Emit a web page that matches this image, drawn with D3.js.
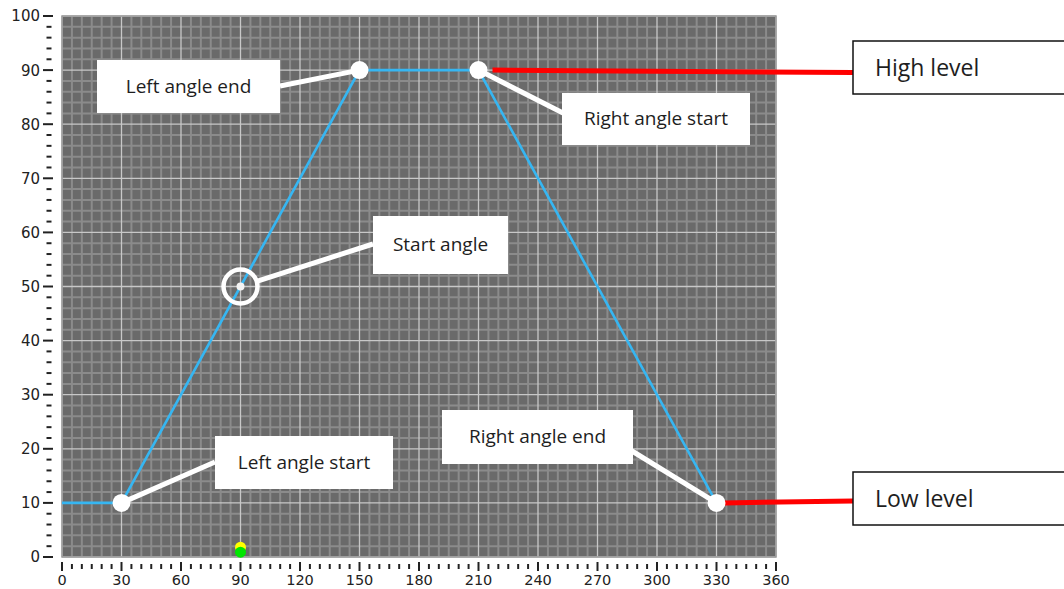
<!DOCTYPE html>
<html><head><meta charset="utf-8">
<script src="https://cdn.jsdelivr.net/npm/d3@7/dist/d3.min.js"></script>
<style>html,body{margin:0;padding:0;background:#fff;}svg{display:block;}</style>
</head><body><svg id="c" width="1064" height="589"></svg>
<script>
// ---- data ----
const angles = [0, 30, 150, 210, 330];
const levels = [10, 10, 90, 90, 10];
const keyAngles = [30, 150, 210, 330];
const keyLevels = [10, 90, 90, 10];
const startAngle = 90, startLevel = 50;
const markerAngle = 90;
const markerLevels = [1.8, 0.9]; // yellow, green
const xTickLabels = [0,30,60,90,120,150,180,210,240,270,300,330,360];
const yTickLabels = [0,10,20,30,40,50,60,70,80,90,100];
const calloutLabels = ["Left angle end","Right angle start","Start angle","Left angle start","Right angle end"];
const calloutAngles = [150, 210, 90, 30, 330];
const calloutLevels = [90, 90, 50, 10, 10];
const levelLabels = ["High level","Low level"];
const levelValues = [90, 10];

// ---- layout ----
const svg = d3.select("#c");
const x = d3.scaleLinear().domain([0,360]).range([62,776]);
const y = d3.scaleLinear().domain([0,100]).range([557,16]);

svg.append("rect").attr("x",x(0)).attr("y",y(100)).attr("width",x(360)-x(0)).attr("height",y(0)-y(100))
  .attr("fill","#6a6a6a");
const g = svg.append("g");
d3.range(0,361,5).forEach(v=>{ if(v%30) g.append("line").attr("x1",x(v)).attr("x2",x(v)).attr("y1",y(100)).attr("y2",y(0)).attr("stroke","#8b8b8b").attr("stroke-width",2);});
d3.range(0,101,2).forEach(v=>{ if(v%10) g.append("line").attr("y1",y(v)).attr("y2",y(v)).attr("x1",x(0)).attr("x2",x(360)).attr("stroke","#8b8b8b").attr("stroke-width",2);});
xTickLabels.forEach(v=>g.append("line").attr("x1",x(v)).attr("x2",x(v)).attr("y1",y(100)).attr("y2",y(0)).attr("stroke","#c8c8c8").attr("stroke-width",1.3));
yTickLabels.forEach(v=>g.append("line").attr("y1",y(v)).attr("y2",y(v)).attr("x1",x(0)).attr("x2",x(360)).attr("stroke","#c8c8c8").attr("stroke-width",1.3));
svg.append("rect").attr("x",x(0)).attr("y",y(100)).attr("width",x(360)-x(0)).attr("height",y(0)-y(100))
  .attr("fill","none").attr("stroke","#9a9a9a").attr("stroke-width",1.5);

// y axis
const yAxis = svg.append("g").attr("font-family","DejaVu Sans").attr("font-size",15).attr("fill","#222");
d3.range(0,101,2).forEach(v=>{
  const major = v%10===0;
  yAxis.append("line").attr("x1",major?43:46.5).attr("x2",major?53:51.5).attr("y1",y(v)).attr("y2",y(v))
    .attr("stroke","#222").attr("stroke-width",2);
});
yTickLabels.forEach(v=>yAxis.append("text").attr("x",40).attr("y",y(v)).attr("dy","0.36em").attr("text-anchor","end").text(v));
// x axis
const xAxis = svg.append("g").attr("font-family","DejaVu Sans").attr("font-size",14.5).attr("fill","#222");
d3.range(0,361,5).forEach(v=>{
  const major = v%30===0;
  xAxis.append("line").attr("x1",x(v)).attr("x2",x(v)).attr("y1",major?562:564).attr("y2",major?571:569)
    .attr("stroke","#222").attr("stroke-width",2);
});
xTickLabels.forEach(v=>xAxis.append("text").attr("x",x(v)).attr("y",584.5).attr("text-anchor","middle").text(v));

// blue profile line
const line = d3.line().x((d,i)=>x(angles[i])).y((d,i)=>y(levels[i]));
svg.append("path").datum(angles).attr("d",line).attr("fill","none").attr("stroke","#36b6f2").attr("stroke-width",2.6);

// yellow / green markers
svg.append("circle").attr("cx",x(markerAngle)).attr("cy",y(markerLevels[0])).attr("r",5.5).attr("fill","#ffff00");
svg.append("circle").attr("cx",x(markerAngle)).attr("cy",y(markerLevels[1])).attr("r",5.5).attr("fill","#00e600");

// red level lines
const levelBoxes = [{x:853,y:41,w:220,h:53},{x:853,y:472,w:220,h:53}];
const levelStarts = [[x(210)+14, y(90)], [x(330)+8, y(10)]];
const levelEndY = [72.5, 501];
levelValues.forEach((v,i)=>{
  svg.append("line").attr("x1",levelStarts[i][0]).attr("y1",levelStarts[i][1]).attr("x2",levelBoxes[i].x).attr("y2",levelEndY[i])
    .attr("stroke","#ff0000").attr("stroke-width",5);
});

// callouts
const ringR = 17;
const boxes = [
  {x:97,y:60,w:183,h:53, ex:280, ey:86},
  {x:562,y:93,w:188,h:52, ex:563, ey:113},
  {x:373,y:216,w:135,h:58, ex:373, ey:244},
  {x:215,y:436,w:178,h:53, ex:215, ey:462},
  {x:442,y:410,w:191,h:54, ex:632, ey:451}
];
calloutLabels.forEach((t,i)=>{
  const b = boxes[i];
  let px = x(calloutAngles[i]), py = y(calloutLevels[i]);
  if (i===2){
    const dx = b.ex-px, dy = b.ey-py, L = Math.hypot(dx,dy);
    px += dx/L*ringR; py += dy/L*ringR;
  }
  svg.append("line").attr("x1",px).attr("y1",py).attr("x2",b.ex).attr("y2",b.ey)
    .attr("stroke","#fff").attr("stroke-width",5);
});
keyAngles.forEach((a,i)=>svg.append("circle").attr("cx",x(a)).attr("cy",y(keyLevels[i])).attr("r",9).attr("fill","#fff"));
svg.append("circle").attr("cx",x(startAngle)).attr("cy",y(startLevel)).attr("r",ringR).attr("fill","none").attr("stroke","#fff").attr("stroke-width",4.5);
svg.append("circle").attr("cx",x(startAngle)).attr("cy",y(startLevel)).attr("r",4).attr("fill","#f4f4f4");

calloutLabels.forEach((t,i)=>{
  const b = boxes[i];
  svg.append("rect").attr("x",b.x).attr("y",b.y).attr("width",b.w).attr("height",b.h).attr("fill","#fff");
  svg.append("text").attr("x",b.x+b.w/2).attr("y",b.y+b.h/2).attr("dy","0.33em").attr("text-anchor","middle")
    .attr("font-family","Open Sans").attr("font-size",19).attr("fill","#1e1e1e").text(t);
});
levelLabels.forEach((t,i)=>{
  const b = levelBoxes[i];
  svg.append("rect").attr("x",b.x).attr("y",b.y).attr("width",b.w).attr("height",b.h).attr("fill","#fff").attr("stroke","#111").attr("stroke-width",1.5);
  svg.append("text").attr("x",b.x+22).attr("y",b.y+b.h/2).attr("dy","0.35em")
    .attr("font-family","Open Sans").attr("font-size",23).attr("fill","#1e1e1e").text(t);
});
</script></body></html>
